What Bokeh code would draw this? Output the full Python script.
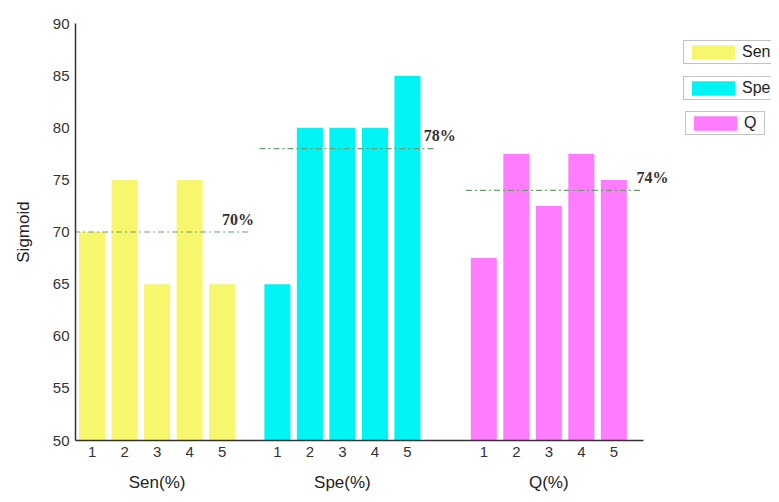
from bokeh.plotting import figure
from bokeh.models import Range1d, LinearAxis, FixedTicker, Legend, LegendItem, ColumnDataSource
from bokeh.core.properties import value
from bokeh.embed import file_html
from bokeh.resources import INLINE

# ---- data ----
groups = ["Sen", "Spe", "Q"]
group_labels = ["Sen(%)", "Spe(%)", "Q(%)"]
runs = ["1", "2", "3", "4", "5"]
sen = [70, 75, 65, 75, 65]
spe = [65, 80, 80, 80, 85]
q = [67.5, 77.5, 72.5, 77.5, 75]
means = [70, 78, 74]
mean_labels = ["70%", "78%", "74%"]
y_ticks = [50, 55, 60, 65, 70, 75, 80, 85, 90]

# ---- layout / style ----
colors = ["#f7f76e", "#00f4f4", "#ff7cff"]
group_start = [0.0, 5.7, 12.05]
label_dx = [4.0, 4.5, 4.7]
series = [sen, spe, q]

p = figure(width=771, height=494, output_backend="svg", toolbar_location=None,
           x_range=Range1d(-0.51, 20.9), y_range=Range1d(50, 90),
           min_border_left=75, min_border_right=0, min_border_top=23, min_border_bottom=54)
p.grid.visible = False
p.outline_line_color = None
p.xaxis.visible = False

# y axis
p.yaxis.ticker = FixedTicker(ticks=y_ticks)
p.yaxis.axis_label = "Sigmoid"
p.yaxis.axis_label_text_font = "Liberation Sans"
p.yaxis.axis_label_text_font_style = "normal"
p.yaxis.axis_label_text_font_size = "17px"
p.yaxis.axis_label_text_color = "#222222"
p.yaxis.axis_label_standoff = 17
p.yaxis.major_label_text_font = "Liberation Sans"
p.yaxis.major_label_text_font_size = "15px"
p.yaxis.major_label_text_color = "#333333"
p.yaxis.major_tick_out = 0
p.yaxis.major_tick_in = 0
p.yaxis.minor_tick_line_color = None
p.yaxis.major_label_standoff = 6
p.yaxis.axis_line_color = "#333333"
p.yaxis.axis_line_width = 1.5

# bars
renderers = []
ticks = []
overrides = {}
for gi, vals in enumerate(series):
    xs = [group_start[gi] + i for i in range(len(vals))]
    for i, t in enumerate(xs):
        ticks.append(t)
        overrides[t] = runs[i]
    src = ColumnDataSource(dict(x=xs, top=vals))
    r = p.vbar(x="x", top="top", bottom=50, width=0.8, source=src,
               fill_color=colors[gi], line_color=None)
    renderers.append(r)

# mean lines
p.segment(x0=[g - 0.55 for g in group_start], x1=[g + 4.85 for g in group_start],
          y0=means, y1=means, line_color="#6b9e6b", line_width=1.2, line_dash="6 3 2 3")
p.text(x=[g + d for g, d in zip(group_start, label_dx)], y=means, text=mean_labels,
       text_font=value("Liberation Serif"), text_font_style="bold", text_font_size="16px",
       text_baseline="middle", text_align="left", y_offset=-13, text_color="#333333")

# x axis: run numbers
ax1 = LinearAxis(ticker=FixedTicker(ticks=ticks), major_label_overrides=overrides,
                 bounds=(-0.51, group_start[-1] + 4.92))
ax1.major_tick_out = 0
ax1.major_tick_in = 0
ax1.minor_tick_line_color = None
ax1.major_label_standoff = 6
ax1.major_label_text_font = "Liberation Sans"
ax1.major_label_text_font_size = "15px"
ax1.major_label_text_color = "#333333"
ax1.axis_line_color = "#333333"
ax1.axis_line_width = 1.5
p.add_layout(ax1, "below")

# x axis: group names
centers = [g + 2 for g in group_start]
ax2 = LinearAxis(ticker=FixedTicker(ticks=centers),
                 major_label_overrides={c: l for c, l in zip(centers, group_labels)})
ax2.axis_line_color = None
ax2.major_tick_line_color = None
ax2.minor_tick_line_color = None
ax2.major_label_standoff = 7
ax2.major_label_text_font = "Liberation Sans"
ax2.major_label_text_font_size = "17px"
ax2.major_label_text_color = "#222222"
p.add_layout(ax2, "below")

# legends: three separate boxes
frame_h = 417
tops = [19, 55, 90]
lefts = [608, 608, 610]
for gi in range(3):
    leg = Legend(items=[LegendItem(label=groups[gi], renderers=[renderers[gi]])],
                 location=(lefts[gi], frame_h - tops[gi] - 22))
    leg.border_line_color = "#888888"
    leg.border_line_width = 1
    leg.background_fill_color = "white"
    leg.padding = 2
    leg.spacing = 0
    leg.margin = 0
    leg.glyph_width = 54
    leg.glyph_height = 18
    leg.label_height = 18
    leg.label_standoff = 2
    leg.label_width = 18
    leg.label_text_font = "Liberation Sans"
    leg.label_text_font_size = "16px"
    leg.label_text_color = "#222222"
    p.add_layout(leg, "center")

open("out.html", "w").write(file_html(p, INLINE))
